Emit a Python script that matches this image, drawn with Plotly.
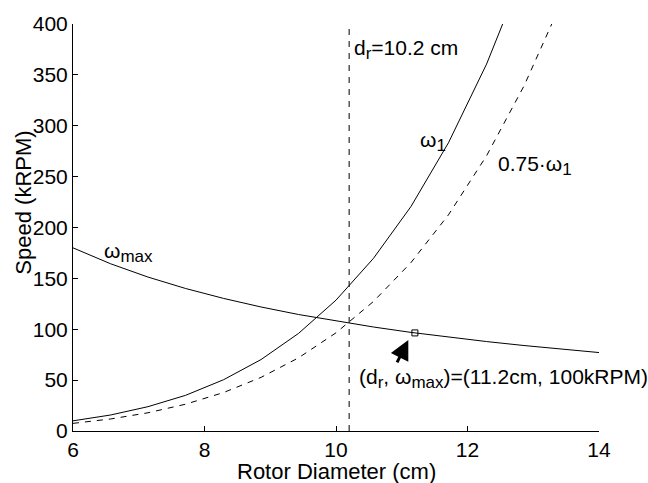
import plotly.graph_objects as go

# Rotor diameter samples (cm)
diameter = [6.00, 6.57, 7.14, 7.71, 8.29, 8.86, 9.43, 10.00, 10.57, 11.14, 11.71, 12.29, 12.86, 13.43, 14.00]
# First critical speed and its 75 % margin (kRPM)
omega_1 = [10.0, 15.7, 23.9, 35.0, 50.4, 70.2, 95.9, 128.6, 169.7, 220.6, 283.2, 360.6, 452.3, 561.9, 692.0]
omega_1_margin = [7.5, 11.8, 17.9, 26.3, 37.8, 52.7, 71.9, 96.5, 127.3, 165.5, 212.4, 270.5, 339.2, 421.4, 519.0]
# Tip-speed limited maximum speed (kRPM)
omega_max = [180.0, 164.4, 151.3, 140.1, 130.3, 121.9, 114.5, 108.0, 102.2, 96.9, 92.2, 87.9, 84.0, 80.4, 77.1]

# Design diameter limit and selected operating point
d_r = 10.2
sel_d = 11.2
sel_w = 96.4

x_ticks = [6, 8, 10, 12, 14]
y_ticks = [0, 50, 100, 150, 200, 250, 300, 350, 400]

FONT = "Liberation Sans, Arial, Helvetica, sans-serif"
BLACK = "black"
DASH = "6px,6px"


def sub(s):
    return f"<sub><span style='font-size:17px'>{s}</span></sub>"


fig = go.Figure()

fig.add_trace(go.Scatter(x=diameter, y=omega_1, mode="lines",
                         line=dict(color=BLACK, width=1)))
fig.add_trace(go.Scatter(x=diameter, y=omega_1_margin, mode="lines",
                         line=dict(color=BLACK, width=1, dash=DASH)))
fig.add_trace(go.Scatter(x=diameter, y=omega_max, mode="lines",
                         line=dict(color=BLACK, width=1)))
fig.add_trace(go.Scatter(x=[d_r, d_r], y=[0, 400], mode="lines",
                         line=dict(color=BLACK, width=1, dash=DASH)))
fig.add_trace(go.Scatter(x=[sel_d], y=[sel_w], mode="markers",
                         marker=dict(symbol="square-open", size=6,
                                     color=BLACK, line=dict(width=1))))

txt = dict(font=dict(family=FONT, size=21, color=BLACK), showarrow=False,
           xref="x", yref="y", xanchor="left", yanchor="middle")

fig.add_annotation(x=10.24, y=375, text=f"d{sub('r')}={d_r:.1f} cm", **txt)
fig.add_annotation(x=11.25, y=285, text=f"ω{sub('1')}", **txt)
fig.add_annotation(x=12.44, y=261, text=f"0.75·ω{sub('1')}", **txt)
fig.add_annotation(x=6.44, y=175, text=f"ω{sub('max')}", **txt)
fig.add_annotation(
    x=10.32, y=52,
    text=f"(d{sub('r')}, ω{sub('max')})=({sel_d:.1f}cm, {round(sel_w, -1):.0f}kRPM)",
    **txt)

# Arrow pointing at the selected operating point
fig.add_annotation(x=11.10, y=89.5, ax=-12, ay=24, xref="x", yref="y",
                   text="", showarrow=True, arrowhead=2, arrowsize=1.3,
                   arrowwidth=3, arrowcolor=BLACK)

# Axis titles
fig.add_annotation(x=0.5, y=-0.099, xref="paper", yref="paper",
                   text="Rotor Diameter (cm)", showarrow=False,
                   xanchor="center", yanchor="middle",
                   font=dict(family=FONT, size=22, color=BLACK))
fig.add_annotation(x=-0.094, y=0.56, xref="paper", yref="paper",
                   text="Speed (kRPM)", showarrow=False, textangle=-90,
                   xanchor="center", yanchor="middle",
                   font=dict(family=FONT, size=22, color=BLACK))

axis_common = dict(showgrid=False, zeroline=False, showline=True,
                   linecolor=BLACK, linewidth=1, ticks="inside", ticklen=5,
                   tickcolor=BLACK, tickwidth=1,
                   tickfont=dict(family=FONT, size=21, color=BLACK))

fig.update_layout(
    width=648, height=483, autosize=False,
    margin=dict(l=73, r=49, t=16, b=52),
    paper_bgcolor="white", plot_bgcolor="white",
    showlegend=False,
    xaxis=dict(range=[6, 14], tickvals=x_ticks, ticktext=[str(t) for t in x_ticks],
               **axis_common),
    yaxis=dict(range=[0, 400], tickvals=y_ticks, ticktext=[str(t) for t in y_ticks],
               **axis_common),
)

fig.write_html("out.html")
